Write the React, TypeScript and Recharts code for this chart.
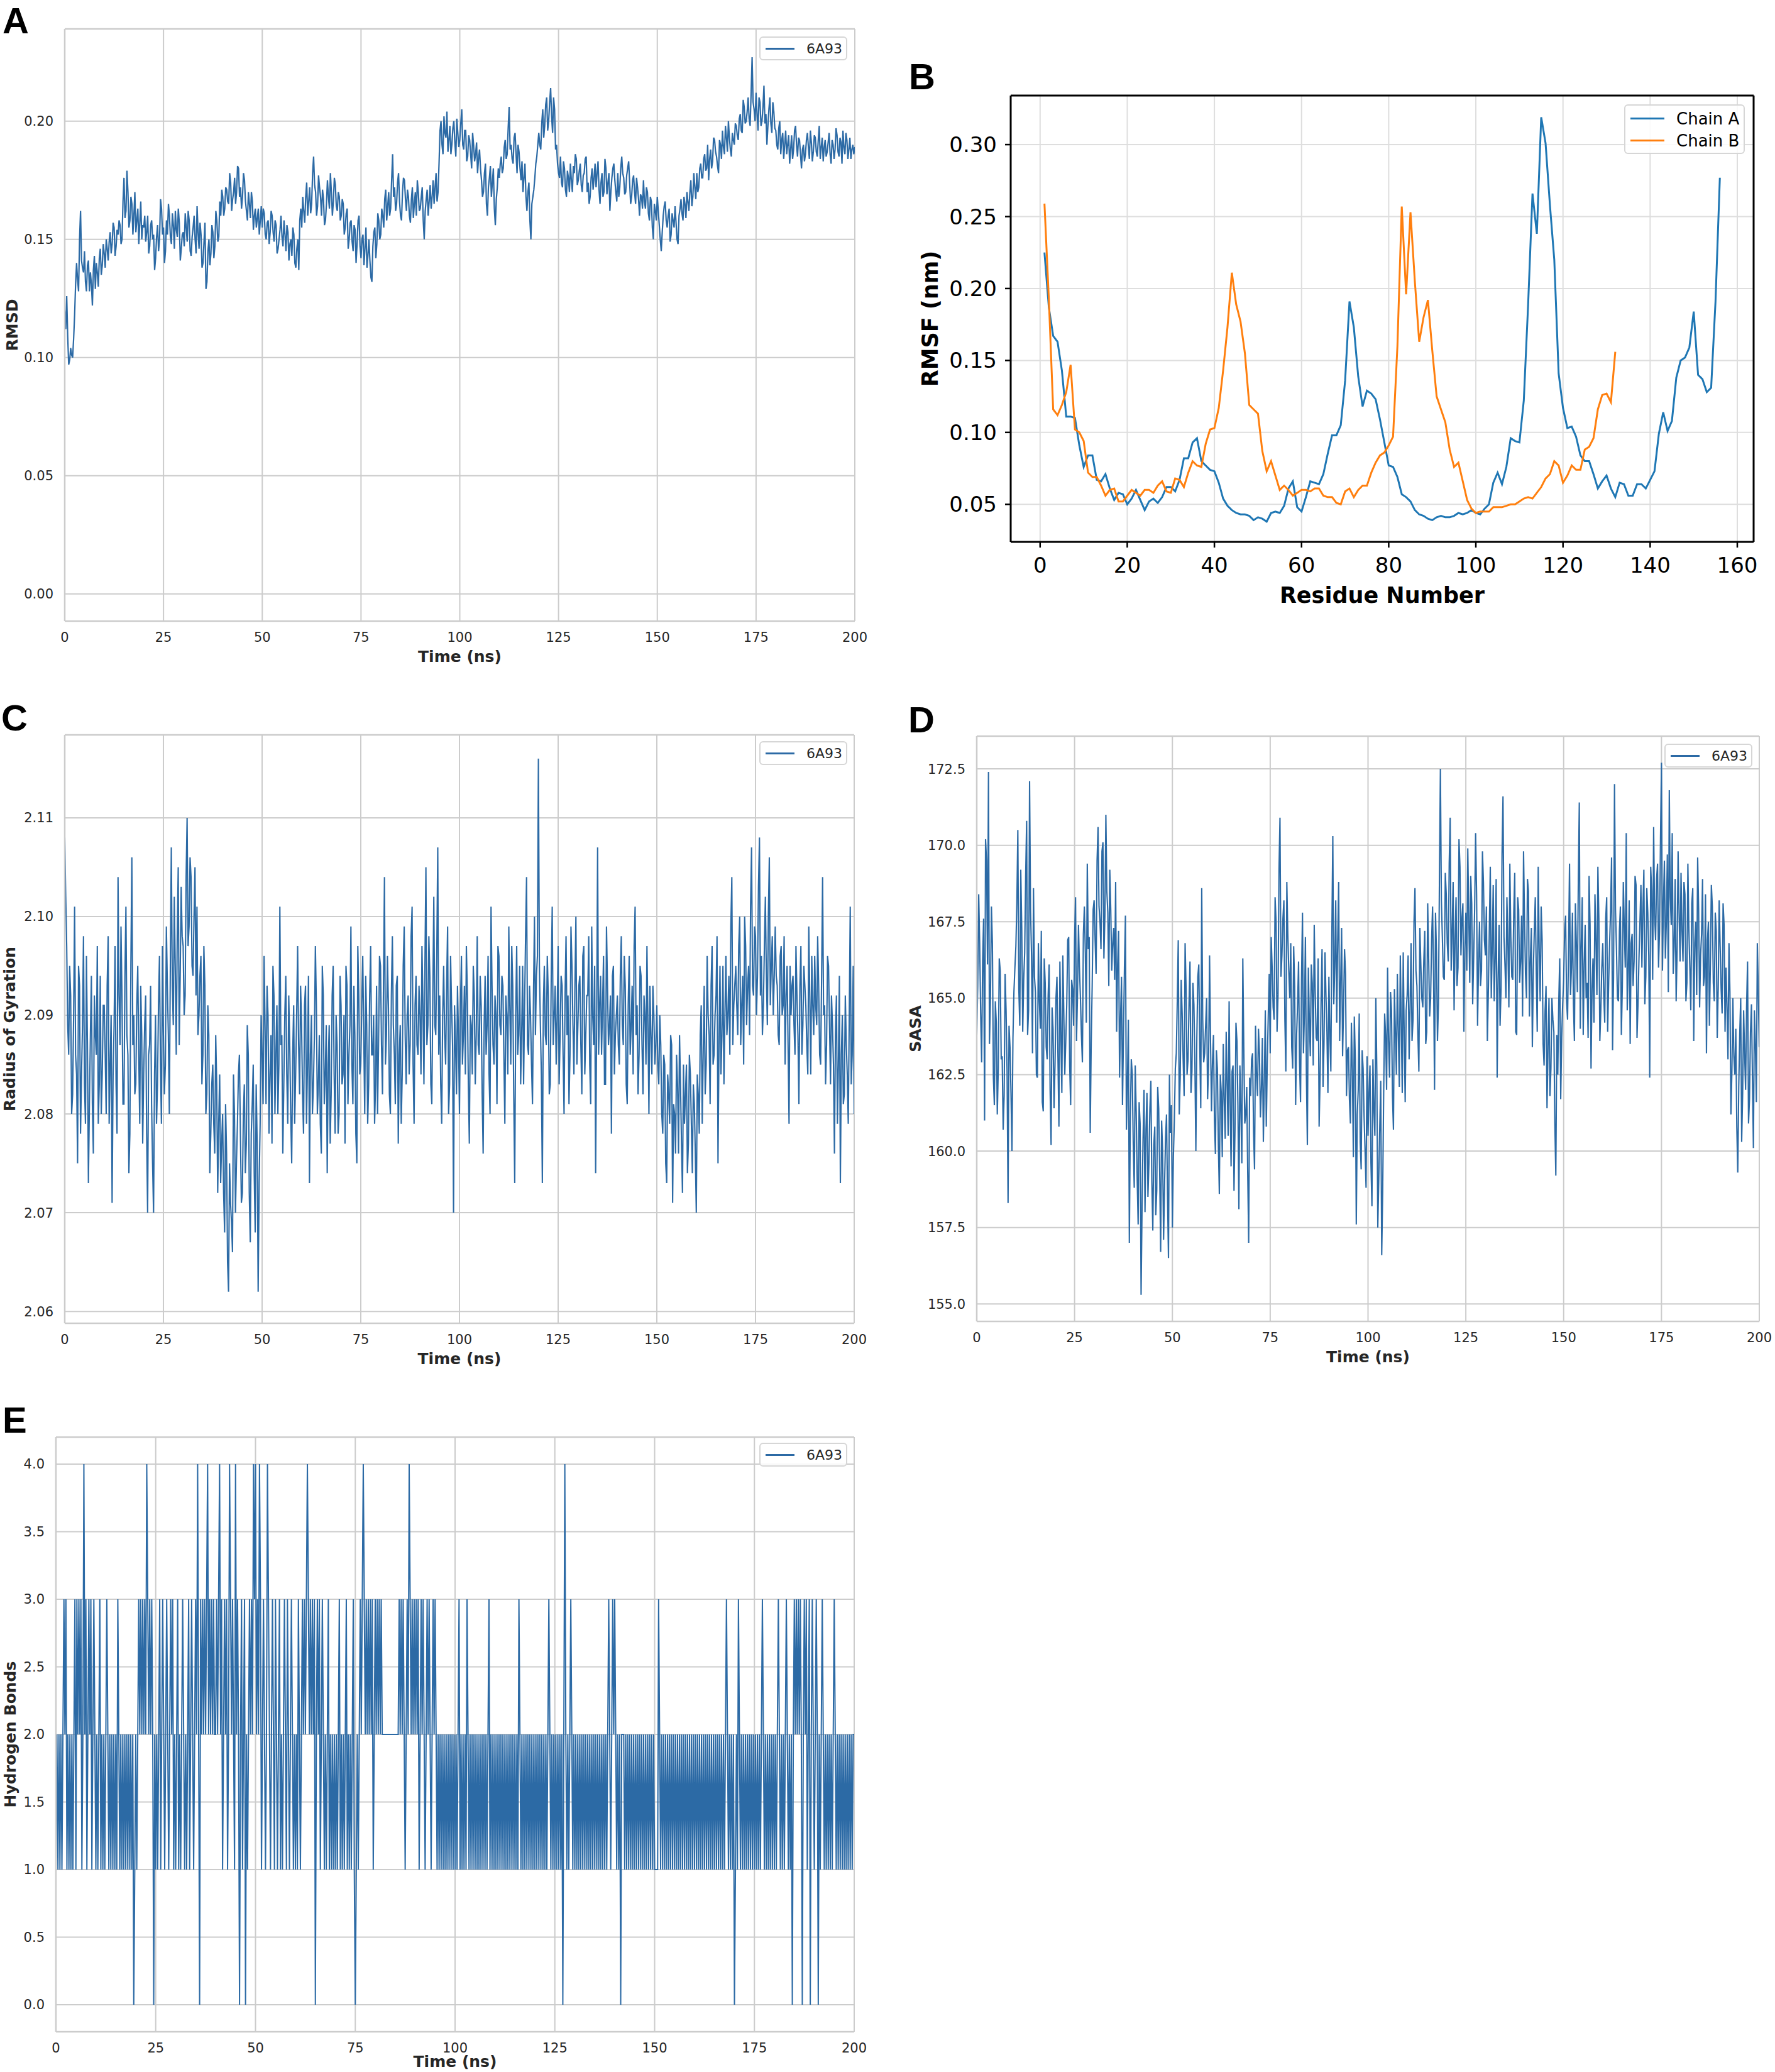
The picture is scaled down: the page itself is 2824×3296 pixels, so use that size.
import { CartesianGrid, Legend, Line, LineChart, ReferenceLine, XAxis, YAxis } from "recharts";

// ---- ticks ----
const timeTicks = [0, 25, 50, 75, 100, 125, 150, 175, 200];
const rmsdTicks = [0, 0.05, 0.1, 0.15, 0.2];
const rgTicks = [2.06, 2.07, 2.08, 2.09, 2.1, 2.11];
const sasaTicks = [155, 157.5, 160, 162.5, 165, 167.5, 170, 172.5];
const hbondTicks = [0, 0.5, 1, 1.5, 2, 2.5, 3, 3.5, 4];
const residueTicks = [0, 20, 40, 60, 80, 100, 120, 140, 160];
const rmsfTicks = [0.05, 0.1, 0.15, 0.2, 0.25, 0.3];

// frames are every 0.25 ns; the "Frames" arrays hold t = 0, 0.5, 1 ...,
// the "Between" arrays hold t = 0.25, 0.75, ...
const STEP = 0.25;

// ---- A: RMSD ----
const rmsdFrames = [
  0.120,0.126,0.097,0.104,0.100,0.118,0.140,0.128,0.162,0.138,0.145,0.128,0.141,0.136,0.122,0.143,0.140,0.130,0.146,0.139,
  0.144,0.150,0.141,0.153,0.148,0.155,0.147,0.152,0.156,0.150,0.176,0.162,0.170,0.158,0.165,0.160,0.153,0.163,0.157,0.150,
  0.155,0.149,0.160,0.147,0.158,0.152,0.142,0.156,0.150,0.163,0.155,0.145,0.152,0.160,0.148,0.156,0.162,0.151,0.157,0.146,
  0.153,0.161,0.149,0.158,0.143,0.155,0.150,0.164,0.146,0.152,0.140,0.157,0.132,0.150,0.144,0.153,0.147,0.158,0.151,0.160,
  0.168,0.163,0.171,0.165,0.174,0.167,0.176,0.170,0.180,0.172,0.168,0.175,0.162,0.170,0.159,0.166,0.160,0.155,0.163,0.158,
  0.155,0.161,0.150,0.158,0.153,0.160,0.149,0.156,0.146,0.154,0.151,0.158,0.145,0.153,0.148,0.143,0.152,0.138,0.150,0.158,
  0.155,0.162,0.168,0.160,0.172,0.165,0.185,0.170,0.164,0.172,0.160,0.167,0.158,0.175,0.163,0.170,0.166,0.173,0.162,0.168,
  0.160,0.165,0.155,0.163,0.150,0.158,0.145,0.154,0.148,0.160,0.142,0.152,0.146,0.138,0.150,0.134,0.147,0.155,0.148,0.158,
  0.152,0.160,0.167,0.158,0.170,0.163,0.186,0.172,0.165,0.178,0.160,0.170,0.175,0.162,0.168,0.157,0.172,0.165,0.160,0.170,
  0.163,0.172,0.150,0.167,0.160,0.173,0.168,0.165,0.178,0.170,0.196,0.190,0.202,0.193,0.187,0.198,0.190,0.200,0.185,0.195,
  0.192,0.205,0.188,0.196,0.185,0.192,0.180,0.190,0.186,0.178,0.188,0.175,0.170,0.182,0.160,0.176,0.168,0.180,0.156,0.172,
  0.176,0.185,0.180,0.192,0.186,0.206,0.190,0.182,0.195,0.178,0.187,0.175,0.170,0.182,0.162,0.174,0.150,0.168,0.176,0.185,
  0.195,0.188,0.205,0.198,0.210,0.200,0.214,0.195,0.205,0.190,0.178,0.185,0.172,0.180,0.168,0.176,0.182,0.170,0.178,0.184,
  0.175,0.182,0.170,0.178,0.185,0.174,0.168,0.180,0.176,0.172,0.183,0.165,0.178,0.170,0.180,0.174,0.162,0.176,0.182,0.170,
  0.178,0.172,0.185,0.176,0.170,0.180,0.174,0.168,0.177,0.165,0.172,0.160,0.168,0.175,0.163,0.170,0.158,0.166,0.150,0.162,
  0.168,0.156,0.145,0.160,0.166,0.155,0.163,0.152,0.158,0.164,0.150,0.160,0.167,0.158,0.165,0.170,0.162,0.175,0.168,0.172,
  0.178,0.172,0.182,0.176,0.186,0.180,0.175,0.188,0.183,0.192,0.185,0.178,0.190,0.196,0.186,0.193,0.200,0.188,0.195,0.190,
  0.198,0.192,0.203,0.195,0.206,0.200,0.210,0.198,0.227,0.205,0.212,0.196,0.208,0.200,0.215,0.203,0.198,0.210,0.195,0.204,
  0.196,0.188,0.200,0.192,0.184,0.196,0.190,0.182,0.194,0.188,0.198,0.185,0.192,0.180,0.190,0.186,0.195,0.184,0.191,0.187,
  0.193,0.185,0.198,0.189,0.183,0.192,0.187,0.195,0.182,0.190,0.188,0.194,0.185,0.191,0.196,0.186,0.192,0.188,0.184,0.190,
  0.189,
];
const rmsdBetween = [
  0.112,0.109,0.099,0.101,0.108,0.131,0.133,0.150,0.141,0.136,0.132,0.139,0.128,0.131,0.137,0.129,0.136,0.142,0.135,0.148,
  0.138,0.146,0.149,0.144,0.157,0.143,0.154,0.158,0.148,0.166,0.159,0.179,0.155,0.168,0.152,0.170,0.158,0.148,0.166,0.156,
  0.160,0.153,0.144,0.156,0.150,0.137,0.151,0.145,0.167,0.152,0.140,0.158,0.165,0.151,0.161,0.146,0.154,0.163,0.141,0.152,
  0.147,0.155,0.162,0.145,0.151,0.160,0.144,0.153,0.157,0.138,0.149,0.129,0.145,0.139,0.156,0.142,0.162,0.149,0.166,0.171,
  0.160,0.172,0.166,0.178,0.162,0.170,0.165,0.181,0.168,0.163,0.178,0.166,0.158,0.165,0.170,0.154,0.163,0.159,0.152,0.164,
  0.163,0.152,0.157,0.148,0.162,0.153,0.158,0.144,0.150,0.160,0.147,0.152,0.156,0.141,0.150,0.155,0.140,0.146,0.137,0.163,
  0.168,0.157,0.174,0.166,0.161,0.178,0.173,0.160,0.177,0.168,0.171,0.156,0.165,0.168,0.178,0.160,0.176,0.164,0.170,0.158,
  0.167,0.152,0.161,0.146,0.157,0.149,0.156,0.140,0.158,0.147,0.150,0.139,0.155,0.143,0.141,0.132,0.153,0.142,0.161,0.150,
  0.163,0.155,0.171,0.164,0.160,0.175,0.168,0.162,0.174,0.166,0.158,0.176,0.167,0.171,0.160,0.167,0.159,0.170,0.175,0.162,
  0.168,0.158,0.162,0.171,0.166,0.163,0.175,0.172,0.166,0.182,0.200,0.186,0.195,0.204,0.192,0.186,0.197,0.191,0.201,0.189,
  0.199,0.190,0.196,0.183,0.194,0.186,0.195,0.183,0.191,0.184,0.180,0.168,0.178,0.165,0.172,0.181,0.174,0.163,0.167,0.180,
  0.182,0.178,0.189,0.184,0.197,0.188,0.184,0.193,0.186,0.190,0.180,0.183,0.176,0.168,0.170,0.158,0.165,0.171,0.182,0.190,
  0.190,0.199,0.193,0.207,0.196,0.208,0.202,0.210,0.188,0.182,0.176,0.174,0.183,0.171,0.179,0.170,0.175,0.181,0.186,0.173,
  0.179,0.173,0.177,0.184,0.170,0.165,0.176,0.171,0.182,0.178,0.171,0.174,0.168,0.184,0.169,0.178,0.170,0.180,0.175,0.166,
  0.168,0.180,0.178,0.169,0.177,0.183,0.165,0.175,0.170,0.176,0.167,0.169,0.163,0.166,0.172,0.161,0.168,0.155,0.165,0.158,
  0.162,0.150,0.153,0.164,0.158,0.160,0.149,0.161,0.155,0.157,0.148,0.163,0.161,0.168,0.159,0.166,0.170,0.164,0.178,0.167,
  0.170,0.180,0.176,0.184,0.179,0.190,0.184,0.180,0.193,0.187,0.181,0.192,0.184,0.189,0.198,0.187,0.193,0.185,0.192,0.199,
  0.194,0.201,0.196,0.209,0.199,0.204,0.201,0.212,0.208,0.200,0.203,0.210,0.198,0.206,0.199,0.190,0.205,0.199,0.208,0.197,
  0.190,0.197,0.186,0.195,0.190,0.186,0.194,0.188,0.184,0.196,0.190,0.193,0.186,0.188,0.183,0.192,0.189,0.196,0.183,0.194,
  0.187,0.192,0.184,0.193,0.189,0.185,0.191,0.186,0.192,0.184,0.197,0.187,0.193,0.182,0.189,0.195,0.184,0.193,0.188,0.186,
];

// ---- C: radius of gyration ----
const rgFrames = [
  2.108,2.097,2.086,2.092,2.082,2.101,2.084,2.095,2.078,2.089,2.083,2.096,2.073,2.088,2.081,2.092,2.086,2.079,2.094,2.084,
  2.091,2.080,2.098,2.085,2.071,2.089,2.083,2.104,2.087,2.092,2.081,2.101,2.086,2.078,2.106,2.090,2.083,2.095,2.079,2.088,
  2.084,2.092,2.070,2.087,2.081,2.070,2.090,2.083,2.096,2.079,2.088,2.085,2.093,2.080,2.107,2.089,2.095,2.098,2.087,2.103,
  2.097,2.092,2.110,2.099,2.104,2.094,2.105,2.101,2.090,2.096,2.086,2.093,2.082,2.088,2.078,2.085,2.076,2.083,2.079,2.073,
  2.080,2.068,2.076,2.062,2.071,2.066,2.080,2.075,2.084,2.078,2.072,2.083,2.077,2.086,2.067,2.081,2.074,2.083,2.062,2.079,
  2.086,2.096,2.081,2.090,2.084,2.077,2.092,2.086,2.080,2.101,2.088,2.083,2.094,2.079,2.087,2.075,2.091,2.084,2.097,2.082,
  2.089,2.078,2.093,2.085,2.073,2.090,2.083,2.097,2.080,2.088,2.076,2.092,2.084,2.074,2.089,2.082,2.095,2.078,2.087,2.080,
  2.091,2.084,2.077,2.093,2.086,2.099,2.081,2.088,2.075,2.092,2.085,2.096,2.080,2.089,2.083,2.097,2.086,2.079,2.093,2.087,
  2.095,2.082,2.104,2.088,2.091,2.080,2.098,2.086,2.093,2.077,2.089,2.084,2.099,2.083,2.092,2.087,2.101,2.079,2.094,2.086,
  2.090,2.097,2.083,2.105,2.089,2.094,2.081,2.102,2.088,2.107,2.092,2.079,2.095,2.085,2.099,2.083,2.091,2.070,2.087,2.093,
  2.080,2.096,2.088,2.084,2.092,2.077,2.089,2.095,2.083,2.098,2.086,2.091,2.076,2.094,2.089,2.084,2.101,2.087,2.092,2.081,
  2.096,2.088,2.093,2.079,2.090,2.099,2.085,2.093,2.073,2.097,2.088,2.083,2.095,2.091,2.104,2.086,2.090,2.081,2.100,2.094,
  2.116,2.089,2.073,2.095,2.087,2.092,2.083,2.101,2.090,2.085,2.097,2.088,2.093,2.080,2.098,2.092,2.086,2.095,2.084,2.100,
  2.089,2.094,2.082,2.097,2.088,2.092,2.085,2.099,2.087,2.074,2.107,2.091,2.086,2.096,2.083,2.093,2.089,2.078,2.095,2.088,
  2.092,2.085,2.098,2.087,2.093,2.081,2.096,2.089,2.084,2.101,2.091,2.086,2.094,2.082,2.090,2.097,2.080,2.088,2.093,2.085,
  2.091,2.083,2.087,2.078,2.085,2.073,2.082,2.088,2.071,2.080,2.086,2.076,2.083,2.072,2.079,2.085,2.077,2.084,2.074,2.081,
  2.070,2.082,2.088,2.079,2.093,2.085,2.090,2.081,2.097,2.086,2.092,2.075,2.095,2.088,2.083,2.096,2.090,2.086,2.104,2.091,
  2.095,2.088,2.100,2.091,2.085,2.097,2.093,2.088,2.107,2.092,2.098,2.094,2.108,2.096,2.091,2.102,2.089,2.106,2.095,2.090,
  2.099,2.093,2.087,2.097,2.091,2.085,2.095,2.079,2.090,2.094,2.086,2.092,2.081,2.097,2.089,2.093,2.087,2.099,2.084,2.091,
  2.096,2.089,2.093,2.085,2.104,2.091,2.087,2.095,2.083,2.089,2.076,2.092,2.085,2.073,2.090,2.082,2.087,2.079,2.101,2.086,
  2.080,
];
const rgBetween = [
  2.102,2.089,2.095,2.080,2.090,2.086,2.075,2.093,2.084,2.098,2.079,2.087,2.081,2.094,2.076,2.088,2.097,2.083,2.080,2.091,
  2.086,2.093,2.079,2.090,2.084,2.097,2.078,2.092,2.099,2.081,2.094,2.088,2.074,2.095,2.087,2.082,2.091,2.086,2.093,2.077,
  2.089,2.078,2.086,2.093,2.075,2.084,2.079,2.091,2.085,2.097,2.082,2.099,2.088,2.095,2.093,2.102,2.086,2.105,2.094,2.098,
  2.090,2.104,2.097,2.106,2.095,2.100,2.092,2.088,2.094,2.083,2.097,2.080,2.091,2.074,2.083,2.079,2.088,2.072,2.084,2.077,
  2.072,2.081,2.065,2.075,2.069,2.084,2.070,2.079,2.086,2.071,2.080,2.074,2.089,2.072,2.078,2.085,2.068,2.077,2.073,2.090,
  2.081,2.089,2.093,2.078,2.088,2.095,2.080,2.091,2.085,2.087,2.076,2.090,2.084,2.092,2.080,2.086,2.079,2.090,2.087,2.093,
  2.082,2.091,2.079,2.094,2.086,2.080,2.088,2.091,2.083,2.079,2.095,2.081,2.089,2.085,2.077,2.092,2.084,2.090,2.078,2.094,
  2.083,2.090,2.095,2.081,2.089,2.085,2.093,2.078,2.097,2.084,2.091,2.088,2.094,2.079,2.092,2.086,2.090,2.083,2.080,2.096,
  2.087,2.093,2.085,2.096,2.082,2.092,2.089,2.081,2.094,2.086,2.079,2.095,2.088,2.090,2.084,2.098,2.085,2.091,2.087,2.093,
  2.084,2.091,2.095,2.087,2.098,2.083,2.092,2.089,2.096,2.086,2.083,2.090,2.088,2.093,2.080,2.096,2.087,2.091,2.082,2.088,
  2.091,2.085,2.093,2.097,2.083,2.090,2.084,2.092,2.088,2.087,2.094,2.082,2.089,2.086,2.096,2.080,2.093,2.085,2.090,2.097,
  2.089,2.094,2.086,2.092,2.084,2.091,2.097,2.082,2.090,2.086,2.095,2.088,2.083,2.098,2.087,2.093,2.085,2.092,2.088,2.096,
  2.095,2.084,2.091,2.088,2.096,2.082,2.094,2.087,2.093,2.090,2.083,2.094,2.086,2.092,2.088,2.081,2.099,2.089,2.093,2.085,
  2.093,2.087,2.096,2.084,2.092,2.098,2.081,2.090,2.095,2.089,2.086,2.094,2.091,2.083,2.099,2.087,2.092,2.094,2.084,2.090,
  2.087,2.094,2.089,2.096,2.083,2.091,2.086,2.093,2.097,2.088,2.082,2.095,2.087,2.092,2.085,2.089,2.093,2.084,2.090,2.087,
  2.085,2.090,2.080,2.086,2.075,2.084,2.079,2.087,2.081,2.076,2.083,2.088,2.077,2.085,2.082,2.074,2.086,2.079,2.083,2.076,
  2.084,2.078,2.091,2.086,2.082,2.096,2.088,2.093,2.085,2.090,2.098,2.087,2.084,2.095,2.090,2.088,2.094,2.099,2.087,2.093,
  2.091,2.097,2.087,2.094,2.100,2.089,2.095,2.101,2.093,2.099,2.090,2.103,2.092,2.088,2.097,2.094,2.100,2.091,2.098,2.094,
  2.094,2.088,2.096,2.090,2.098,2.092,2.087,2.095,2.093,2.089,2.097,2.088,2.093,2.086,2.095,2.091,2.084,2.092,2.096,2.088,
  2.091,2.098,2.086,2.094,2.090,2.083,2.096,2.089,2.092,2.085,2.088,2.079,2.094,2.086,2.081,2.092,2.084,2.090,2.083,2.095,
];

// ---- D: SASA ----
const sasaFrames = [
  163.8,168.4,164.5,166.2,161.0,169.5,172.4,165.0,166.8,161.5,164.2,162.7,165.9,163.1,161.8,164.6,158.3,163.4,160.0,165.2,
  166.7,170.5,164.1,167.3,165.6,169.0,163.8,172.1,166.4,168.6,165.2,162.4,164.9,167.2,161.3,165.5,163.0,166.1,160.2,164.0,
  162.8,165.7,160.8,163.9,166.4,162.5,164.8,167.0,161.5,165.3,166.9,163.6,167.4,165.0,162.9,168.0,164.2,166.6,160.6,165.4,
  168.2,165.8,170.6,167.5,169.8,166.3,171.0,167.8,169.2,165.9,167.3,168.8,166.1,162.4,165.7,163.8,167.7,162.2,157.0,163.0,
  160.2,162.8,159.1,161.6,155.3,160.4,158.0,161.9,159.6,162.3,157.4,160.8,158.7,161.4,156.7,160.0,158.9,161.2,156.5,160.6,
  157.5,161.0,163.2,166.9,162.4,164.5,161.8,165.3,163.0,166.2,162.6,164.8,160.0,165.7,163.4,168.6,162.9,164.1,161.7,166.4,
  161.3,163.8,159.9,162.7,158.6,161.9,163.5,160.4,162.2,164.9,159.5,162.8,160.7,163.6,158.1,161.4,166.3,160.9,162.1,157.0,
  161.8,163.2,159.4,162.5,164.0,161.1,163.7,162.3,160.8,164.4,163.2,166.0,164.3,167.5,165.1,170.9,166.4,168.2,162.6,167.1,
  165.0,163.4,166.7,161.5,164.8,162.9,165.6,163.2,167.0,160.2,164.3,166.1,162.8,165.2,163.6,160.8,164.9,162.1,166.5,163.9,
  165.7,162.6,170.3,166.0,164.2,168.8,165.5,163.1,166.6,161.8,163.4,160.9,162.7,164.4,157.6,162.0,160.3,163.3,161.1,158.8,
  160.5,162.8,158.2,161.4,165.0,157.5,160.8,156.6,161.9,163.8,166.0,162.4,164.6,160.7,163.9,165.8,162.1,164.2,166.5,161.6,
  165.1,163.0,166.8,164.3,168.6,165.4,162.6,166.1,164.7,167.2,163.9,166.3,165.0,168.0,162.0,166.5,164.8,172.5,167.0,165.6,
  168.4,166.2,170.9,167.1,164.6,168.3,166.0,169.3,167.6,163.9,167.8,169.9,165.5,168.1,166.3,170.4,164.1,167.5,165.9,168.8,
  166.4,163.6,167.2,165.0,168.7,166.2,162.4,167.4,165.3,171.6,166.1,168.3,164.7,167.0,165.6,169.1,163.8,167.9,166.2,164.4,
  167.6,165.0,168.5,166.3,163.4,167.2,165.8,169.3,164.9,166.9,162.8,165.4,163.4,161.8,165.0,163.9,159.2,162.5,166.3,163.7,
  165.6,167.7,164.3,169.4,166.0,164.8,168.1,165.2,171.4,166.7,163.8,167.4,165.5,169.0,162.7,166.3,168.4,165.1,167.6,164.6,
  166.8,164.2,168.3,165.5,167.9,163.3,172.0,166.6,164.9,168.0,165.4,167.3,170.4,165.9,163.5,167.1,166.2,168.7,164.8,167.5,
  166.0,169.2,165.7,167.8,162.4,168.5,170.6,166.9,169.4,167.2,172.7,168.1,166.3,169.7,171.8,167.4,165.8,168.9,166.6,167.8,
  169.1,166.2,168.4,165.5,167.3,164.6,168.6,166.8,165.1,167.9,166.4,168.9,165.7,163.2,167.5,166.1,168.0,164.9,167.2,165.3,
  166.7,164.5,167.4,166.0,163.0,165.2,162.6,163.1,164.0,159.3,163.8,160.3,164.6,162.0,166.2,161.7,164.8,160.1,163.5,166.8,
  163.4,
];
const sasaBetween = [
  165.4,166.8,162.9,167.6,170.2,166.1,163.5,168.0,162.4,164.9,161.2,166.3,163.0,160.7,165.8,162.6,164.1,161.9,163.7,166.0,
  168.1,165.3,169.2,163.9,166.5,170.8,164.6,167.9,163.2,165.7,162.5,166.8,164.0,161.6,166.3,163.4,165.1,162.0,164.7,161.4,
  165.0,163.1,166.2,161.9,164.5,163.6,166.9,162.8,165.6,164.1,168.3,165.1,166.0,163.8,167.1,166.5,169.4,167.0,163.5,167.9,
  166.9,169.5,168.0,166.6,170.1,167.7,168.5,165.4,167.9,166.8,165.6,163.9,167.2,164.4,161.5,166.0,160.7,164.3,161.1,162.5,
  158.8,161.3,157.6,160.9,158.2,162.0,160.7,158.5,161.4,159.0,160.2,157.9,162.1,159.3,161.0,157.1,160.4,158.6,162.5,161.5,
  159.8,162.7,164.9,161.2,165.6,163.0,166.8,162.5,164.8,161.9,165.5,162.9,163.7,166.1,161.4,164.3,163.2,165.0,162.8,163.6,
  162.9,161.0,163.3,160.2,162.5,159.8,161.7,163.9,160.5,161.6,162.6,158.7,164.2,161.5,162.8,159.6,163.4,161.2,159.3,162.4,
  163.0,160.6,164.1,161.8,163.2,162.0,160.3,164.6,162.9,165.8,167.0,164.7,168.3,163.9,169.2,165.7,167.6,164.3,168.8,165.9,
  166.8,162.7,165.4,163.8,166.2,161.6,167.8,164.5,162.5,166.0,163.1,165.5,167.4,163.7,166.3,162.4,166.6,163.5,165.1,161.9,
  163.9,167.0,164.8,168.2,166.9,163.6,167.3,164.7,165.8,163.3,161.7,164.2,159.8,163.0,161.2,164.5,159.4,162.7,160.0,163.1,
  161.9,159.6,163.0,160.5,162.6,159.1,162.3,158.7,164.5,162.0,163.6,165.2,161.8,165.3,162.5,163.9,166.4,161.9,163.8,164.6,
  166.4,164.7,163.6,167.5,165.9,163.8,167.3,165.0,166.2,163.5,168.1,164.4,166.9,165.7,167.8,163.6,168.9,168.2,165.7,169.1,
  166.8,169.4,165.9,168.8,166.9,165.4,170.2,166.4,168.1,166.6,165.9,167.7,169.0,164.8,167.9,168.4,166.1,165.4,169.8,166.9,
  168.0,165.2,169.3,166.7,164.9,168.9,165.6,164.1,169.7,167.0,165.0,166.8,169.4,165.7,167.8,163.9,168.3,165.5,167.7,169.8,
  165.8,168.9,164.4,167.3,165.9,168.3,163.9,166.6,168.0,163.5,164.6,161.4,165.0,162.7,164.3,160.9,163.8,164.9,161.7,164.8,
  167.2,164.9,166.6,165.1,167.8,163.6,166.8,168.9,164.0,168.3,166.1,165.0,163.7,167.4,165.3,164.2,166.9,169.3,163.6,166.0,
  165.1,167.6,163.9,166.8,169.6,165.7,167.9,165.0,167.2,163.8,168.8,166.0,164.6,168.2,166.8,165.4,169.0,163.7,166.3,168.7,
  167.9,164.8,168.6,166.4,169.3,165.6,167.7,168.9,166.0,170.2,165.9,169.5,167.5,165.2,168.3,170.4,166.7,164.9,169.8,166.2,
  167.2,168.8,164.9,169.4,166.0,168.1,163.6,167.5,169.6,164.7,167.1,165.4,168.4,166.9,164.1,168.7,165.5,167.8,163.7,168.2,
  165.3,168.1,163.9,164.7,166.8,161.2,165.0,162.5,160.8,162.1,165.0,161.9,163.2,164.7,160.9,163.9,162.4,164.6,161.6,165.2,
];

// ---- E: hydrogen bonds, every 0.25 ns ----
const hbondValues = [
  1,2,1,2,1,2,1,2,3,2,3,1,2,1,2,1,2,1,2,3,1,3,2,3,2,3,1,2,4,2,3,1,2,3,2,3,1,2,3,2,
  1,2,1,2,3,1,2,1,2,1,2,3,2,1,2,1,2,1,2,1,2,1,3,2,1,2,1,2,1,2,1,2,1,2,1,2,1,2,0,1,
  2,1,2,3,2,3,2,3,2,3,2,4,3,2,3,2,3,2,0,2,1,2,1,2,3,1,2,3,2,1,2,3,2,1,2,3,2,3,1,2,
  1,2,3,1,2,1,2,3,2,1,2,1,2,3,1,2,3,2,1,2,3,2,4,2,0,3,2,3,2,3,2,3,4,2,3,2,3,2,3,2,
  2,3,2,3,4,2,3,1,2,3,2,3,1,2,4,3,2,3,2,1,4,2,3,2,0,2,3,1,2,3,0,2,1,2,3,2,3,2,4,3,
  4,2,3,2,4,3,1,2,3,2,1,2,4,3,2,1,2,3,2,1,3,2,1,2,3,1,2,1,2,3,2,1,3,2,1,2,3,2,1,2,
  1,2,1,3,2,1,2,3,2,3,2,3,4,3,2,3,2,3,2,3,0,2,3,2,3,1,2,3,2,1,2,1,2,3,1,2,1,2,1,2,
  1,2,1,2,3,1,2,1,2,1,2,3,1,2,1,2,1,2,3,1,0,1,2,1,2,3,2,3,4,3,2,3,2,3,2,3,2,3,1,2,
  3,2,3,2,3,2,3,2,2,2,2,2,2,2,2,2,2,2,2,2,2,2,2,2,3,2,3,2,3,2,1,2,3,2,4,3,2,3,2,3,
  2,3,2,3,1,2,3,2,3,2,1,2,3,2,3,2,1,2,3,2,3,2,1,2,1,2,1,2,1,2,1,2,1,2,1,2,1,2,1,2,
  1,2,1,2,3,1,2,1,2,1,2,1,3,2,1,2,1,2,1,2,1,2,1,2,1,2,1,2,1,2,1,2,1,2,3,1,2,1,2,1,
  2,1,2,1,2,1,2,1,2,1,2,1,2,1,2,1,2,1,2,1,2,1,2,1,3,2,1,2,1,2,1,2,1,2,1,2,1,2,1,2,
  1,2,1,2,1,2,1,2,1,2,1,2,1,2,3,2,1,2,1,2,1,2,1,2,1,2,1,2,0,2,4,2,1,2,1,2,3,2,1,2,
  1,2,1,2,1,2,1,2,1,2,1,2,1,2,1,2,1,2,1,2,1,2,1,2,1,2,1,2,1,2,1,2,1,2,3,2,1,2,3,2,
  3,2,1,2,1,2,0,2,2,2,1,2,1,2,1,2,1,2,1,2,1,2,1,2,1,2,1,2,1,2,1,2,1,2,1,2,1,2,1,2,
  1,1,1,1,3,2,1,2,1,2,1,2,1,2,1,2,1,2,1,2,1,2,1,2,1,2,1,2,1,2,1,2,1,2,1,2,1,2,1,2,
  1,2,1,2,1,2,1,2,1,2,1,2,1,2,1,2,1,2,1,2,1,2,1,2,1,2,1,2,1,2,1,2,3,2,1,2,1,2,1,2,
  0,1,2,1,3,2,1,2,1,2,1,2,1,2,1,2,1,2,1,2,1,2,1,2,1,2,1,2,3,2,1,2,1,2,1,2,1,2,1,2,
  1,2,1,2,3,2,1,2,1,2,1,2,3,2,1,2,1,2,0,2,3,2,3,2,3,2,3,2,0,2,3,2,3,1,2,3,0,2,3,2,
  1,2,3,2,0,2,1,2,3,2,1,2,1,2,1,2,1,2,1,2,3,2,1,2,1,2,1,2,1,2,1,2,1,2,1,2,1,2,1,2,
  2,
];

// ---- B: RMSF per residue ----
const rmsfChainA = [
  0.225,0.187,0.167,0.163,0.143,0.111,0.111,0.110,0.091,0.076,
  0.084,0.084,0.067,0.066,0.071,0.061,0.053,0.058,0.057,0.050,
  0.054,0.060,0.053,0.046,0.052,0.054,0.051,0.055,0.062,0.062,
  0.059,0.067,0.082,0.082,0.093,0.096,0.080,0.077,0.074,0.073,
  0.065,0.054,0.049,0.046,0.044,0.043,0.043,0.042,0.039,0.041,
  0.040,0.038,0.044,0.045,0.044,0.049,0.061,0.066,0.048,0.045,
  0.055,0.066,0.065,0.064,0.071,0.085,0.098,0.098,0.105,0.136,
  0.191,0.173,0.139,0.118,0.129,0.127,0.123,0.109,0.093,0.077,
  0.076,0.069,0.057,0.055,0.052,0.046,0.043,0.042,0.040,0.039,
  0.041,0.042,0.041,0.041,0.042,0.044,0.043,0.044,0.046,0.044,
  0.043,0.047,0.050,0.065,0.072,0.064,0.076,0.096,0.094,0.093,
  0.122,0.189,0.266,0.238,0.319,0.301,0.258,0.220,0.141,0.117,
  0.103,0.104,0.097,0.084,0.080,0.080,0.071,0.061,0.066,0.070,
  0.061,0.055,0.065,0.064,0.056,0.056,0.064,0.064,0.061,0.067,
  0.073,0.099,0.114,0.101,0.108,0.138,0.150,0.152,0.159,0.184,
  0.140,0.137,0.128,0.131,0.191,0.277,
];
const rmsfChainB = [
  0.259,0.193,0.116,0.112,0.119,0.128,0.147,0.102,0.100,0.094,
  0.072,0.069,0.069,0.063,0.056,0.060,0.061,0.052,0.052,0.056,
  0.060,0.058,0.056,0.060,0.060,0.058,0.063,0.066,0.059,0.058,
  0.068,0.067,0.062,0.072,0.080,0.077,0.076,0.092,0.102,0.103,
  0.117,0.143,0.173,0.211,0.189,0.177,0.155,0.119,0.116,0.113,
  0.087,0.073,0.080,0.070,0.060,0.063,0.060,0.056,0.058,0.060,
  0.060,0.059,0.061,0.061,0.056,0.055,0.055,0.051,0.050,0.059,
  0.061,0.055,0.060,0.063,0.063,0.072,0.079,0.084,0.086,0.091,
  0.097,0.160,0.257,0.196,0.253,0.205,0.163,0.180,0.192,0.157,
  0.125,0.116,0.107,0.088,0.076,0.079,0.066,0.053,0.047,0.044,
  0.045,0.045,0.045,0.048,0.048,0.048,0.049,0.050,0.050,0.052,
  0.054,0.055,0.054,0.058,0.062,0.068,0.071,0.080,0.077,0.065,
  0.070,0.077,0.074,0.074,0.088,0.090,0.096,0.116,0.126,0.127,
  0.121,0.156,
];

const BLUE = "#2c6aa5";
const TEXT = "#262626";
const GRID = "#cccccc";

type Pt = { t: number; v: number };
// put the in-between frames back in time order
const interleave = (frames: number[], between: number[]) =>
  frames.flatMap((v, i) => (i < between.length ? [v, between[i]] : [v]));
const toSeries = (vals: number[]): Pt[] => vals.map((v, i) => ({ t: i * STEP, v }));

const rmsdData = toSeries(interleave(rmsdFrames, rmsdBetween));
const rgData = toSeries(interleave(rgFrames, rgBetween));
const sasaData = toSeries(interleave(sasaFrames, sasaBetween));
const hbondData = toSeries(hbondValues);
const rmsfData = rmsfChainA.map((a, i) => ({ res: i + 1, a, b: rmsfChainB[i] }));

function legendBox(width: number, height: number, fontSize: number, lineLen: number, rowH: number, padTop: number, color: string) {
  return (props: any) => (
    <div
      style={{
        boxSizing: "border-box",
        width,
        height,
        border: "2px solid #d6d6d6",
        borderRadius: 6,
        background: "rgba(255,255,255,0.85)",
        paddingLeft: 8,
        paddingTop: padTop,
        fontSize,
        color,
      }}
    >
      {(props.payload || []).map((p: any) => (
        <div key={p.value} style={{ display: "flex", alignItems: "center", height: rowH }}>
          <span style={{ display: "inline-block", width: lineLen, height: 3, background: p.color, marginRight: 19 }} />
          <span>{p.value}</span>
        </div>
      ))}
    </div>
  );
}

type PanelProps = {
  left: number;
  top: number;
  width: number;
  height: number;
  rightMargin: number;
  yAxisWidth: number;
  data: Pt[];
  yDomain: [number, number];
  yTicks: number[];
  digits: number;
  yLabel: string;
  yLabelOffset: number;
  xLabelOffset: number;
  legendTop: number;
  legendRight: number;
  lineWidth: number;
};

function TimePanel(p: PanelProps) {
  return (
    <div style={{ position: "absolute", left: p.left, top: p.top }}>
      <LineChart width={p.width} height={p.height} data={p.data} margin={{ top: 46, right: p.rightMargin, left: 0, bottom: 0 }}>
        <CartesianGrid stroke={GRID} strokeWidth={2} />
        <XAxis
          dataKey="t"
          type="number"
          domain={[0, 200]}
          ticks={timeTicks}
          allowDataOverflow
          height={90}
          tickLine={false}
          tickSize={0}
          tickMargin={18}
          axisLine={{ stroke: GRID, strokeWidth: 2.5 }}
          tick={{ fontSize: 21, fill: TEXT }}
          label={{ value: "Time (ns)", position: "insideBottom", offset: p.xLabelOffset, style: { fontSize: 25, fontWeight: 700, fill: TEXT } }}
        />
        <YAxis
          type="number"
          domain={p.yDomain}
          ticks={p.yTicks}
          allowDataOverflow
          width={p.yAxisWidth}
          tickLine={false}
          tickSize={0}
          tickMargin={18}
          axisLine={{ stroke: GRID, strokeWidth: 2.5 }}
          tick={{ fontSize: 21, fill: TEXT }}
          tickFormatter={(v: number) => v.toFixed(p.digits)}
          label={{
            value: p.yLabel,
            angle: -90,
            position: "insideLeft",
            offset: p.yLabelOffset,
            style: { textAnchor: "middle", fontSize: 25, fontWeight: 700, fill: TEXT },
          }}
        />
        <ReferenceLine y={p.yDomain[1]} stroke={GRID} strokeWidth={2.5} />
        <Legend
          layout="horizontal"
          verticalAlign="middle"
          align="center"
          wrapperStyle={{ top: p.legendTop, right: p.legendRight, left: "auto", width: 140 }}
          content={legendBox(140, 38, 22, 46, 34, 0, TEXT)}
        />
        <Line
          type="linear"
          dataKey="v"
          name="6A93"
          stroke={BLUE}
          strokeWidth={p.lineWidth}
          dot={false}
          isAnimationActive={false}
        />
      </LineChart>
    </div>
  );
}

function RmsfPanel() {
  const domain: [number, number] = [0.0239, 0.3341];
  return (
    <div style={{ position: "absolute", left: 1440, top: 100 }}>
      <LineChart width={1380} height={872} data={rmsfData} margin={{ top: 52, right: 30, left: 0, bottom: 0 }}>
        <CartesianGrid stroke="#dedede" strokeWidth={2} />
        <XAxis
          dataKey="res"
          type="number"
          domain={[-6.75, 163.75]}
          ticks={residueTicks}
          allowDataOverflow
          height={110}
          tickSize={9}
          tickMargin={16}
          tickLine={{ stroke: "#000", strokeWidth: 2.5 }}
          axisLine={{ stroke: "#000", strokeWidth: 3 }}
          tick={{ fontSize: 34, fill: "#000" }}
          label={{ value: "Residue Number", position: "insideBottom", offset: 13, style: { fontSize: 35, fontWeight: 700, fill: "#000" } }}
        />
        <YAxis
          type="number"
          domain={domain}
          ticks={rmsfTicks}
          allowDataOverflow
          width={168}
          tickSize={9}
          tickMargin={13}
          tickLine={{ stroke: "#000", strokeWidth: 2.5 }}
          axisLine={{ stroke: "#000", strokeWidth: 3 }}
          tick={{ fontSize: 34, fill: "#000" }}
          tickFormatter={(v: number) => v.toFixed(2)}
          label={{
            value: "RMSF (nm)",
            angle: -90,
            position: "insideLeft",
            offset: 40,
            style: { textAnchor: "middle", fontSize: 35, fontWeight: 700, fill: "#000" },
          }}
        />
        <ReferenceLine y={domain[1]} stroke="#000" strokeWidth={3} />
        <ReferenceLine x={163.75} stroke="#000" strokeWidth={3} />
        <Legend
          layout="horizontal"
          verticalAlign="middle"
          align="center"
          wrapperStyle={{ top: 66, right: 44, left: "auto", width: 192 }}
          content={legendBox(192, 79, 26, 54, 35, 3, "#000")}
        />
        <Line type="linear" dataKey="a" name="Chain A" stroke="#1f77b4" strokeWidth={3} dot={false} isAnimationActive={false} />
        <Line type="linear" dataKey="b" name="Chain B" stroke="#ff7f0e" strokeWidth={3} dot={false} isAnimationActive={false} />
      </LineChart>
    </div>
  );
}

const letterStyle = {
  position: "absolute" as const,
  fontFamily: "'Liberation Sans', Arial, sans-serif",
  fontWeight: 700,
  fontSize: 58,
  lineHeight: 1,
  color: "#000",
};

export default function App() {
  return (
    <div
      style={{
        position: "relative",
        width: 2824,
        height: 3296,
        overflow: "hidden",
        background: "#fff",
        fontFamily: "'DejaVu Sans', sans-serif",
      }}
    >
      <style>{"body{margin:0;background:#fff}"}</style>
      <div style={{ ...letterStyle, left: 4, top: 4 }}>A</div>
      <div style={{ ...letterStyle, left: 1446, top: 93 }}>B</div>
      <div style={{ ...letterStyle, left: 2, top: 1113 }}>C</div>
      <div style={{ ...letterStyle, left: 1445, top: 1116 }}>D</div>
      <div style={{ ...letterStyle, left: 4, top: 2230 }}>E</div>

      <TimePanel
        left={0}
        top={0}
        width={1400}
        height={1078}
        rightMargin={40}
        yAxisWidth={103}
        data={rmsdData}
        yDomain={[-0.0115, 0.239]}
        yTicks={rmsdTicks}
        digits={2}
        yLabel="RMSD"
        yLabelOffset={19}
        xLabelOffset={25}
        legendTop={58}
        legendRight={52}
        lineWidth={2.2}
      />
      <RmsfPanel />
      <TimePanel
        left={0}
        top={1123}
        width={1400}
        height={1072}
        rightMargin={41}
        yAxisWidth={103}
        data={rgData}
        yDomain={[2.0588, 2.1184]}
        yTicks={rgTicks}
        digits={2}
        yLabel="Radius of Gyration"
        yLabelOffset={15}
        xLabelOffset={25}
        legendTop={56}
        legendRight={52}
        lineWidth={2.1}
      />
      <TimePanel
        left={1440}
        top={1125}
        width={1384}
        height={1067}
        rightMargin={25}
        yAxisWidth={114}
        data={sasaData}
        yDomain={[154.43, 173.57]}
        yTicks={sasaTicks}
        digits={1}
        yLabel="SASA"
        yLabelOffset={16}
        xLabelOffset={25}
        legendTop={58}
        legendRight={36}
        lineWidth={2.1}
      />
      <TimePanel
        left={0}
        top={2240}
        width={1400}
        height={1082}
        rightMargin={41}
        yAxisWidth={89}
        data={hbondData}
        yDomain={[-0.2, 4.2]}
        yTicks={hbondTicks}
        digits={1}
        yLabel="Hydrogen Bonds"
        yLabelOffset={16}
        xLabelOffset={34}
        legendTop={55}
        legendRight={52}
        lineWidth={2}
      />
    </div>
  );
}
